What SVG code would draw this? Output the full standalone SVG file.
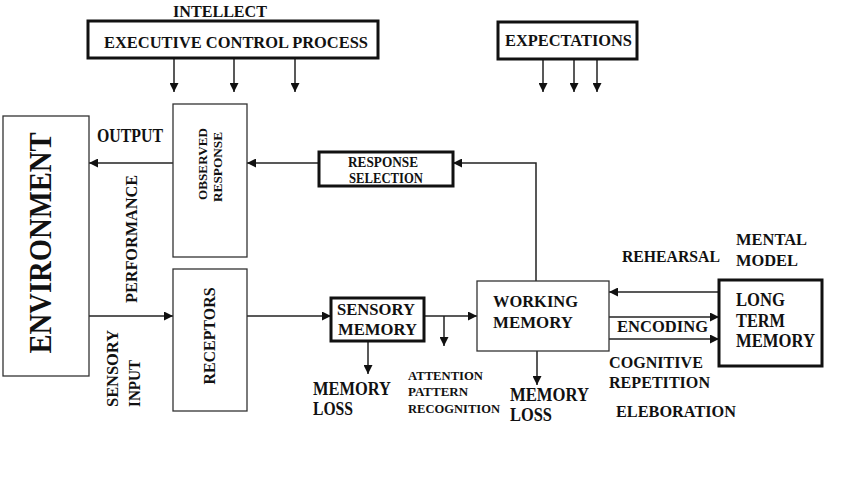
<svg xmlns="http://www.w3.org/2000/svg" width="850" height="479" viewBox="0 0 850 479">
<defs>
<marker id="ah" viewBox="0 0 10 10" refX="10" refY="5" markerWidth="9" markerHeight="9" markerUnits="userSpaceOnUse" orient="auto">
<path d="M0,0 L10,5 L0,10 z" fill="#111"/>
</marker>
<style>
.thin{fill:#fff;stroke:#333;stroke-width:1.3}
.thick{fill:#fff;stroke:#111;stroke-width:3}
.c{fill:none;stroke:#222;stroke-width:1.5}
.a{marker-end:url(#ah)}
</style>
</defs>
<rect width="850" height="479" fill="#fff"/>

<g id="connectors">
<path class="c a" d="M174,58 V92"/>
<path class="c a" d="M234,58 V92"/>
<path class="c a" d="M295,58 V92"/>
<path class="c a" d="M543,59 V92"/>
<path class="c a" d="M574,59 V92"/>
<path class="c a" d="M597,59 V92"/>
<path class="c a" d="M173,163 H89"/>
<path class="c a" d="M89,316 H173"/>
<path class="c a" d="M319,163 H247"/>
<path class="c a" d="M536,281 V163 H453"/>
<path class="c a" d="M247,316 H331"/>
<path class="c a" d="M424,316 H477"/>
<path class="c a" d="M444,316 V346"/>
<path class="c a" d="M368,341 V374"/>
<path class="c a" d="M537,351 V385"/>
<path class="c a" d="M719,292 H609"/>
<path class="c a" d="M609,317 H719"/>
<path class="c a" d="M609,339 H719"/>
</g>

<g font-family="Liberation Serif, Times New Roman, DejaVu Serif, serif" font-weight="bold" fill="#111">
<g id="executive">
<rect class="thick" x="88" y="21" width="290" height="37"/>
<text x="173" y="17" font-size="16.5" textLength="94" lengthAdjust="spacingAndGlyphs">INTELLECT</text>
<text x="104" y="48" font-size="17.5" textLength="264" lengthAdjust="spacingAndGlyphs">EXECUTIVE CONTROL PROCESS</text>
</g>

<g id="expectations">
<rect class="thick" x="498" y="22" width="139" height="37"/>
<text x="505" y="46" font-size="17.5" textLength="127" lengthAdjust="spacingAndGlyphs">EXPECTATIONS</text>
</g>

<g id="environment">
<rect class="thin" x="3" y="116" width="86" height="260"/>
<text transform="translate(51,243) rotate(-90)" text-anchor="middle" font-size="32" textLength="221" lengthAdjust="spacingAndGlyphs">ENVIRONMENT</text>
</g>

<g id="output-label">
<text x="97" y="142" font-size="18" textLength="66" lengthAdjust="spacingAndGlyphs">OUTPUT</text>
</g>

<g id="performance-label">
<text transform="translate(137,239) rotate(-90)" text-anchor="middle" font-size="17.5" textLength="128" lengthAdjust="spacingAndGlyphs">PERFORMANCE</text>
</g>

<g id="sensory-input-label">
<text transform="translate(118,407) rotate(-90)" font-size="17.5" textLength="77" lengthAdjust="spacingAndGlyphs">SENSORY</text>
<text transform="translate(140,407) rotate(-90)" font-size="17.5" textLength="47" lengthAdjust="spacingAndGlyphs">INPUT</text>
</g>

<g id="observed-response">
<rect class="thin" x="173" y="104" width="74" height="153"/>
<text transform="translate(207,164) rotate(-90)" text-anchor="middle" font-size="13.5" textLength="72" lengthAdjust="spacingAndGlyphs">OBSERVED</text>
<text transform="translate(222,167) rotate(-90)" text-anchor="middle" font-size="13.5" textLength="70" lengthAdjust="spacingAndGlyphs">RESPONSE</text>
</g>

<g id="receptors">
<rect class="thin" x="173" y="269" width="74" height="142"/>
<text transform="translate(215,336) rotate(-90)" text-anchor="middle" font-size="17.5" textLength="97" lengthAdjust="spacingAndGlyphs">RECEPTORS</text>
</g>

<g id="response-selection">
<rect class="thick" x="319" y="152" width="134" height="34"/>
<text x="348" y="167" font-size="14.5" textLength="70" lengthAdjust="spacingAndGlyphs">RESPONSE</text>
<text x="349" y="183" font-size="14.5" textLength="74" lengthAdjust="spacingAndGlyphs">SELECTION</text>
</g>

<g id="sensory-memory">
<rect class="thick" x="331" y="298" width="93" height="43"/>
<text x="337" y="315" font-size="17" textLength="78" lengthAdjust="spacingAndGlyphs">SENSORY</text>
<text x="338" y="335" font-size="17" textLength="79" lengthAdjust="spacingAndGlyphs">MEMORY</text>
</g>

<g id="memory-loss-1">
<text x="313" y="395" font-size="18" textLength="78" lengthAdjust="spacingAndGlyphs">MEMORY</text>
<text x="313" y="415" font-size="18" textLength="40" lengthAdjust="spacingAndGlyphs">LOSS</text>
</g>

<g id="attention-label">
<text x="408" y="380" font-size="13.5" textLength="75" lengthAdjust="spacingAndGlyphs">ATTENTION</text>
<text x="408" y="396" font-size="13.5" textLength="60" lengthAdjust="spacingAndGlyphs">PATTERN</text>
<text x="408" y="413" font-size="13.5" textLength="92" lengthAdjust="spacingAndGlyphs">RECOGNITION</text>
</g>

<g id="working-memory">
<rect class="thin" x="477" y="281" width="132" height="70"/>
<text x="493" y="307" font-size="17" textLength="85" lengthAdjust="spacingAndGlyphs">WORKING</text>
<text x="493" y="328" font-size="17" textLength="80" lengthAdjust="spacingAndGlyphs">MEMORY</text>
</g>

<g id="memory-loss-2">
<text x="510" y="401" font-size="18" textLength="79" lengthAdjust="spacingAndGlyphs">MEMORY</text>
<text x="510" y="421" font-size="18" textLength="42" lengthAdjust="spacingAndGlyphs">LOSS</text>
</g>

<g id="long-term-memory">
<rect class="thick" x="719" y="280" width="103" height="86"/>
<text x="736" y="306" font-size="18" textLength="49" lengthAdjust="spacingAndGlyphs">LONG</text>
<text x="736" y="327" font-size="18" textLength="49" lengthAdjust="spacingAndGlyphs">TERM</text>
<text x="736" y="347" font-size="18" textLength="79" lengthAdjust="spacingAndGlyphs">MEMORY</text>
</g>

<g id="labels-right">
<text x="622" y="262" font-size="17" textLength="98" lengthAdjust="spacingAndGlyphs">REHEARSAL</text>
<text x="736" y="245" font-size="17" textLength="71" lengthAdjust="spacingAndGlyphs">MENTAL</text>
<text x="736" y="266" font-size="17" textLength="62" lengthAdjust="spacingAndGlyphs">MODEL</text>
<text x="617" y="332" font-size="17" textLength="91" lengthAdjust="spacingAndGlyphs">ENCODING</text>
<text x="609" y="368" font-size="17" textLength="94" lengthAdjust="spacingAndGlyphs">COGNITIVE</text>
<text x="609" y="388" font-size="17" textLength="101" lengthAdjust="spacingAndGlyphs">REPETITION</text>
<text x="616" y="417" font-size="17" textLength="120" lengthAdjust="spacingAndGlyphs">ELEBORATION</text>
</g>
</g>
</svg>
